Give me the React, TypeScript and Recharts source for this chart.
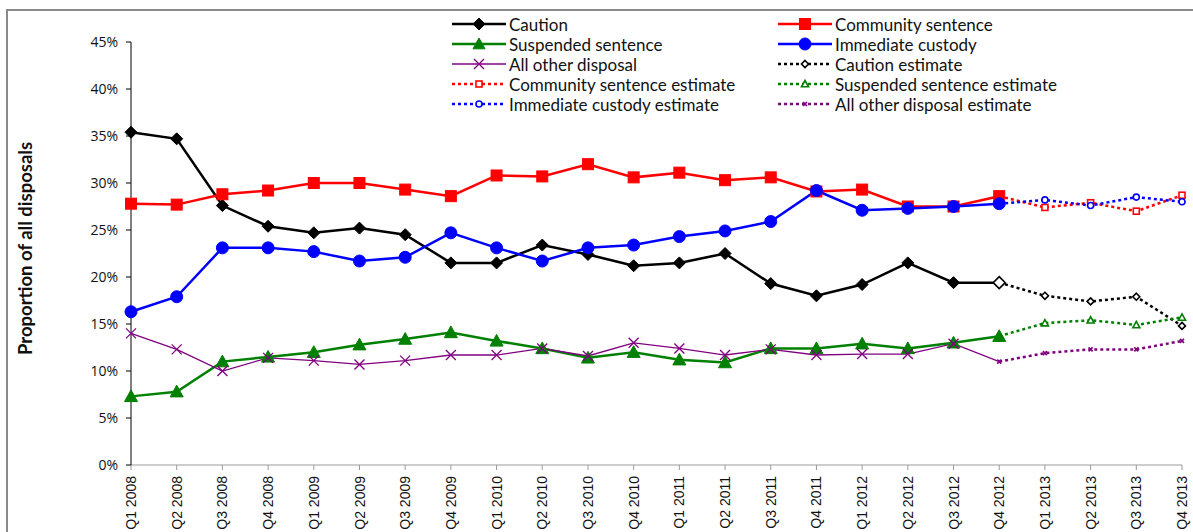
import React from 'react'
import { Legend, Line, LineChart, XAxis, YAxis, Label } from 'recharts'

// Disposal shares by quarter, in percent. Actuals run Q1 2008 – Q4 2012,
// estimates pick up at Q4 2012 and run to Q4 2013.
const quarters = [
  'Q1 2008', 'Q2 2008', 'Q3 2008', 'Q4 2008',
  'Q1 2009', 'Q2 2009', 'Q3 2009', 'Q4 2009',
  'Q1 2010', 'Q2 2010', 'Q3 2010', 'Q4 2010',
  'Q1 2011', 'Q2 2011', 'Q3 2011', 'Q4 2011',
  'Q1 2012', 'Q2 2012', 'Q3 2012', 'Q4 2012',
  'Q1 2013', 'Q2 2013', 'Q3 2013', 'Q4 2013',
]

const caution = [35.4, 34.7, 27.6, 25.4, 24.7, 25.2, 24.5, 21.5, 21.5, 23.4, 22.4, 21.2, 21.5, 22.5, 19.3, 18.0, 19.2, 21.5, 19.4, 19.4]
const community = [27.8, 27.7, 28.8, 29.2, 30.0, 30.0, 29.3, 28.6, 30.8, 30.7, 32.0, 30.6, 31.1, 30.3, 30.6, 29.1, 29.3, 27.5, 27.5, 28.6]
const suspended = [7.3, 7.8, 11.0, 11.5, 12.0, 12.8, 13.4, 14.1, 13.2, 12.4, 11.4, 12.0, 11.2, 10.9, 12.4, 12.4, 12.9, 12.4, 13.0, 13.7]
const custody = [16.3, 17.9, 23.1, 23.1, 22.7, 21.7, 22.1, 24.7, 23.1, 21.7, 23.1, 23.4, 24.3, 24.9, 25.9, 29.2, 27.1, 27.3, 27.5, 27.8]
const other = [14.0, 12.3, 10.0, 11.4, 11.1, 10.7, 11.1, 11.7, 11.7, 12.4, 11.6, 13.0, 12.4, 11.7, 12.3, 11.7, 11.8, 11.8, 12.9, 11.0]

// Q4 2012 .. Q4 2013
const cautionEst = [19.4, 18.0, 17.4, 17.9, 14.8]
const communityEst = [28.6, 27.4, 27.9, 27.0, 28.7]
const suspendedEst = [13.7, 15.1, 15.4, 14.9, 15.7]
const custodyEst = [27.8, 28.2, 27.6, 28.5, 28.0]
const otherEst = [11.0, 11.9, 12.3, 12.3, 13.2]

const yTicks = [0, 5, 10, 15, 20, 25, 30, 35, 40, 45]

const EST_START = quarters.indexOf('Q4 2012')

const data = quarters.map((quarter, i) => ({
  quarter,
  caution: caution[i] ?? null,
  community: community[i] ?? null,
  suspended: suspended[i] ?? null,
  custody: custody[i] ?? null,
  other: other[i] ?? null,
  cautionEst: i >= EST_START ? cautionEst[i - EST_START] : null,
  communityEst: i >= EST_START ? communityEst[i - EST_START] : null,
  suspendedEst: i >= EST_START ? suspendedEst[i - EST_START] : null,
  custodyEst: i >= EST_START ? custodyEst[i - EST_START] : null,
  otherEst: i >= EST_START ? otherEst[i - EST_START] : null,
}))

type Shape = 'diamond' | 'square' | 'triangle' | 'circle' | 'cross'

function drawShape(shape: Shape, cx: number, cy: number, r: number, color: string, hollow: boolean, key?: string) {
  const fill = hollow ? '#fff' : color
  const sw = hollow ? 1.6 : 1
  switch (shape) {
    case 'diamond':
      return <polygon key={key} points={`${cx},${cy - r} ${cx + r},${cy} ${cx},${cy + r} ${cx - r},${cy}`} fill={fill} stroke={color} strokeWidth={sw} />
    case 'square':
      return <rect key={key} x={cx - r} y={cy - r} width={r * 2} height={r * 2} fill={fill} stroke={color} strokeWidth={sw} />
    case 'triangle':
      return <polygon key={key} points={`${cx},${cy - r} ${cx + r},${cy + r * 0.8} ${cx - r},${cy + r * 0.8}`} fill={fill} stroke={color} strokeWidth={sw} />
    case 'circle':
      return <circle key={key} cx={cx} cy={cy} r={r} fill={fill} stroke={color} strokeWidth={sw} />
    case 'cross':
      return (
        <g key={key} stroke={color} strokeWidth={hollow ? 1.6 : 1.3}>
          <line x1={cx - r} y1={cy - r} x2={cx + r} y2={cy + r} />
          <line x1={cx - r} y1={cy + r} x2={cx + r} y2={cy - r} />
        </g>
      )
  }
}

// dot renderer; `special` lets a single index use a different marker
function dots(name: string, shape: Shape, r: number, color: string, hollow: boolean,
  special?: (i: number) => { shape: Shape; r: number; hollow: boolean } | 'skip' | null) {
  return (p: any) => {
    const { cx, cy, index, value } = p
    const key = `${name}-${index}`
    if (cx == null || cy == null || value == null) return <g key={key} />
    const s = special ? special(index) : null
    if (s === 'skip') return <g key={key} />
    if (s) return drawShape(s.shape, cx, cy, s.r, color, s.hollow, key)
    return drawShape(shape, cx, cy, r, color, hollow, key)
  }
}

const BLACK = '#000000'
const RED = '#ff0000'
const GREEN = '#008000'
const BLUE = '#0000ff'
const PURPLE = '#800080'

type LegendItem = { name: string; color: string; shape: Shape; r: number; hollow: boolean; dotted: boolean; width: number }

const legendItems: LegendItem[] = [
  { name: 'Caution', color: BLACK, shape: 'diamond', r: 6, hollow: false, dotted: false, width: 2.5 },
  { name: 'Community sentence', color: RED, shape: 'square', r: 5.5, hollow: false, dotted: false, width: 2.5 },
  { name: 'Suspended sentence', color: GREEN, shape: 'triangle', r: 6, hollow: false, dotted: false, width: 2.5 },
  { name: 'Immediate custody', color: BLUE, shape: 'circle', r: 6, hollow: false, dotted: false, width: 2.5 },
  { name: 'All other disposal', color: PURPLE, shape: 'cross', r: 5, hollow: false, dotted: false, width: 1.3 },
  { name: 'Caution estimate', color: BLACK, shape: 'diamond', r: 3.5, hollow: true, dotted: true, width: 2.5 },
  { name: 'Community sentence estimate', color: RED, shape: 'square', r: 3, hollow: true, dotted: true, width: 2.5 },
  { name: 'Suspended sentence estimate', color: GREEN, shape: 'triangle', r: 3.5, hollow: true, dotted: true, width: 2.5 },
  { name: 'Immediate custody estimate', color: BLUE, shape: 'circle', r: 3, hollow: true, dotted: true, width: 2.5 },
  { name: 'All other disposal estimate', color: PURPLE, shape: 'cross', r: 2, hollow: true, dotted: true, width: 2.5 },
]

function LegendGrid() {
  return (
    <div style={{ position: 'relative', width: 640, height: 100 }}>
      {legendItems.map((it, i) => (
        <div
          key={it.name}
          style={{
            position: 'absolute',
            left: (i % 2) * 326,
            top: Math.floor(i / 2) * 20,
            height: 20,
            display: 'flex',
            alignItems: 'center',
            whiteSpace: 'nowrap',
            fontFamily: 'Lato, sans-serif',
            fontSize: 17,
            color: '#111',
          }}
        >
          <svg width={54} height={20} style={{ marginRight: 3 }}>
            <line x1={0} y1={10} x2={54} y2={10} stroke={it.color} strokeWidth={it.width} strokeDasharray={it.dotted ? '3 3' : undefined} />
            {drawShape(it.shape, 27, 10, it.r, it.color, it.hollow)}
          </svg>
          <span>{it.name}</span>
        </div>
      ))}
    </div>
  )
}

function QuarterTick(props: any) {
  const { x, y, payload } = props
  return (
    <g transform={`translate(${x},${y + 4})`}>
      <text
        transform="rotate(-90)"
        textAnchor="end"
        dy="0.36em"
        fontFamily="'Liberation Sans', Arial, sans-serif"
        fontSize={14}
        fill="#111"
      >
        {payload.value}
      </text>
    </g>
  )
}

export default function App() {
  const last = (i: number) => i === EST_START
  return (
    <div style={{ position: 'absolute', left: 0, top: 0, width: 1193, height: 532, overflow: 'hidden', background: '#fff' }}>
      <div style={{ position: 'absolute', left: 6, top: 9, width: 1400, height: 800, border: '2px solid #8a8a8a' }} />
      <LineChart
        width={1193}
        height={532}
        data={data}
        margin={{ top: 42, right: 11, bottom: 0, left: 0 }}
        style={{ position: 'absolute', left: 0, top: 0 }}
      >
        <XAxis
          dataKey="quarter"
          height={67}
          interval={0}
          tickSize={5}
          tick={<QuarterTick />}
          stroke="#9a9a9a"
          tickLine={{ stroke: '#9a9a9a' }}
        />
        <YAxis
          width={131}
          domain={[0, 45]}
          ticks={yTicks}
          tickSize={5}
          tickMargin={8}
          tickFormatter={(v: number) => `${v}%`}
          stroke="#000"
          tick={{ fill: '#111', fontFamily: "'Open Sans', sans-serif", fontSize: 14 }}
        >
          <Label
            content={(p: any) => {
              const vb = p.viewBox
              const cx = 25
              const cy = vb.y + vb.height / 2 - 5
              return (
                <text
                  x={cx}
                  y={cy}
                  transform={`rotate(-90, ${cx}, ${cy})`}
                  textAnchor="middle"
                  dy="0.36em"
                  fontFamily="Lato, sans-serif"
                  fontWeight="bold"
                  fontSize={18.5}
                  fill="#111"
                >
                  Proportion of all disposals
                </text>
              )
            }}
          />
        </YAxis>
        <Legend
          layout="horizontal"
          verticalAlign="middle"
          align="center"
          wrapperStyle={{ left: 452, top: 14, width: 640 }}
          content={() => <LegendGrid />}
        />

        <Line dataKey="caution" stroke={BLACK} strokeWidth={2.5} isAnimationActive={false}
          dot={dots('caution', 'diamond', 6, BLACK, false, (i) => (last(i) ? { shape: 'diamond', r: 6, hollow: true } : null))} activeDot={false} />
        <Line dataKey="community" stroke={RED} strokeWidth={2.5} isAnimationActive={false}
          dot={dots('community', 'square', 5.5, RED, false)} activeDot={false} />
        <Line dataKey="suspended" stroke={GREEN} strokeWidth={2.5} isAnimationActive={false}
          dot={dots('suspended', 'triangle', 6.5, GREEN, false)} activeDot={false} />
        <Line dataKey="custody" stroke={BLUE} strokeWidth={2.5} isAnimationActive={false}
          dot={dots('custody', 'circle', 6, BLUE, false)} activeDot={false} />
        <Line dataKey="other" stroke={PURPLE} strokeWidth={1.3} isAnimationActive={false}
          dot={dots('other', 'cross', 5, PURPLE, false, (i) => (last(i) ? 'skip' : null))} activeDot={false} />

        <Line dataKey="cautionEst" stroke={BLACK} strokeWidth={2.5} strokeDasharray="3 3" isAnimationActive={false}
          dot={dots('cautionEst', 'diamond', 3.5, BLACK, true, (i) => (last(i) ? 'skip' : null))} activeDot={false} />
        <Line dataKey="communityEst" stroke={RED} strokeWidth={2.5} strokeDasharray="3 3" isAnimationActive={false}
          dot={dots('communityEst', 'square', 3, RED, true, (i) => (last(i) ? 'skip' : null))} activeDot={false} />
        <Line dataKey="suspendedEst" stroke={GREEN} strokeWidth={2.5} strokeDasharray="3 3" isAnimationActive={false}
          dot={dots('suspendedEst', 'triangle', 3.5, GREEN, true, (i) => (last(i) ? 'skip' : null))} activeDot={false} />
        <Line dataKey="custodyEst" stroke={BLUE} strokeWidth={2.5} strokeDasharray="3 3" isAnimationActive={false}
          dot={dots('custodyEst', 'circle', 3, BLUE, true, (i) => (last(i) ? 'skip' : null))} activeDot={false} />
        <Line dataKey="otherEst" stroke={PURPLE} strokeWidth={2.5} strokeDasharray="3 3" isAnimationActive={false}
          dot={dots('otherEst', 'cross', 2, PURPLE, true)} activeDot={false} />
      </LineChart>
    </div>
  )
}
